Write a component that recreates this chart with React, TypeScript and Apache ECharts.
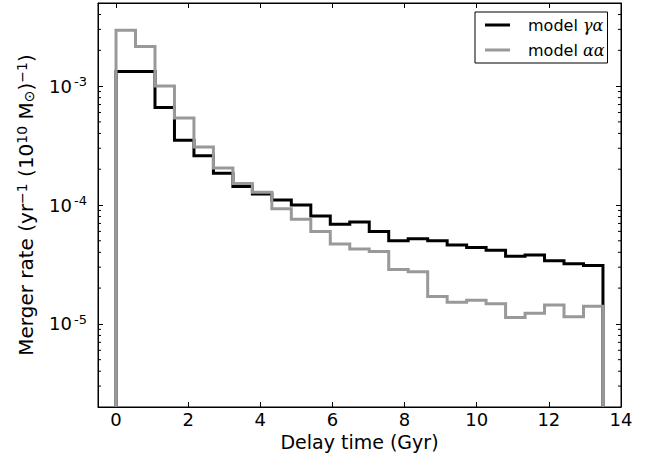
import React, { useEffect, useRef } from "react";
import * as echarts from "echarts";

// Histogram bin edges (Gyr)
const binEdges = [
  0, 0.54, 1.08, 1.62, 2.16, 2.7, 3.24, 3.78, 4.32, 4.86, 5.4, 5.94, 6.48,
  7.02, 7.56, 8.1, 8.64, 9.18, 9.72, 10.26, 10.8, 11.34, 11.88, 12.42, 12.96,
  13.5,
];

// Merger rate per bin, model γα (black)
const rateGammaAlpha = [
  1.33e-3, 1.33e-3, 6.6e-4, 3.5e-4, 2.6e-4, 1.85e-4, 1.43e-4, 1.24e-4, 1.1e-4,
  1.0e-4, 8.1e-5, 6.9e-5, 7.2e-5, 6.0e-5, 5.0e-5, 5.2e-5, 5.0e-5, 4.6e-5,
  4.4e-5, 4.17e-5, 3.7e-5, 3.8e-5, 3.4e-5, 3.2e-5, 3.1e-5,
];

// Merger rate per bin, model αα (gray)
const rateAlphaAlpha = [
  2.95e-3, 2.15e-3, 1.0e-3, 5.4e-4, 3.08e-4, 2.05e-4, 1.52e-4, 1.28e-4, 9.3e-5,
  7.6e-5, 6.0e-5, 4.7e-5, 4.27e-5, 4.06e-5, 2.87e-5, 2.74e-5, 1.7e-5, 1.52e-5,
  1.58e-5, 1.48e-5, 1.13e-5, 1.23e-5, 1.44e-5, 1.15e-5, 1.41e-5,
];

const seriesNames = ["model γα", "model αα"];
const seriesColors = ["#000000", "#999999"];

const xMin = -0.5;
const xMax = 14;
const yMin = 2e-6;
const yMax = 5e-3;

// Major log ticks (labelled 10^n)
const yMajorTicks = [1e-5, 1e-4, 1e-3];

// Minor log ticks (drawn inside on left and right)
const yMinorTicks = [
  3e-6, 4e-6, 5e-6, 6e-6, 7e-6, 8e-6, 9e-6,
  2e-5, 3e-5, 4e-5, 5e-5, 6e-5, 7e-5, 8e-5, 9e-5,
  2e-4, 3e-4, 4e-4, 5e-4, 6e-4, 7e-4, 8e-4, 9e-4,
  2e-3, 3e-3, 4e-3,
];

const FONT = "DejaVu Sans";

function stepData(vals: number[]): number[][] {
  const d: number[][] = [[binEdges[0], yMin]];
  vals.forEach((v, i) => d.push([binEdges[i], v]));
  d.push([binEdges[binEdges.length - 1], vals[vals.length - 1]]);
  d.push([binEdges[binEdges.length - 1], yMin]);
  return d;
}

function isPow10(v: number): boolean {
  const e = Math.round(Math.log10(v));
  return Math.abs(v - Math.pow(10, e)) / v < 1e-6;
}

export default function App() {
  const ref = useRef<HTMLDivElement>(null);
  useEffect(() => {
    if (!ref.current) return;
    const chart = echarts.init(ref.current, null, { renderer: "svg" });
    const tickStyle = { lineStyle: { color: "#000", width: 1 } };
    const axisLine = {
      show: true,
      onZero: false,
      lineStyle: { color: "#000", width: 1 },
    };
    const option: any = {
      animation: false,
      backgroundColor: "#ffffff",
      textStyle: { fontFamily: FONT },
      grid: {
        left: 98,
        right: 32,
        top: 3,
        bottom: 50,
        show: true,
        borderColor: "#000",
        borderWidth: 1,
        backgroundColor: "transparent",
      },
      legend: {
        data: seriesNames,
        orient: "vertical",
        left: 475,
        top: 12,
        borderColor: "#000",
        borderWidth: 1,
        borderRadius: 0,
        backgroundColor: "#fff",
        padding: [3, 3, 3, 10],
        itemGap: 5,
        itemWidth: 25,
        itemHeight: 3,
        icon: "rect",
        formatter: (name: string) => "model {g|" + name.slice(6) + "}",
        textStyle: {
          fontFamily: FONT,
          fontSize: 16,
          color: "#000",
          lineHeight: 20,
          padding: [0, 0, 0, 13],
          rich: {
            g: {
              fontFamily: "DejaVu Serif",
              fontStyle: "italic",
              fontSize: 16,
              color: "#000",
              lineHeight: 20,
            },
          },
        },
      },
      xAxis: [
        {
          type: "value",
          min: xMin,
          max: xMax,
          splitNumber: 7,
          minInterval: 2,
          maxInterval: 2,
          position: "bottom",
          name: "Delay time (Gyr)",
          nameLocation: "middle",
          nameGap: 22,
          nameTextStyle: {
            fontFamily: FONT,
            fontSize: 19,
            color: "#000",
            verticalAlign: "top",
          },
          axisLine,
          axisTick: { show: true, inside: true, length: 5, ...tickStyle },
          axisLabel: {
            show: true,
            fontFamily: FONT,
            fontSize: 18,
            color: "#000",
            margin: 3,
            formatter: (v: number) =>
              Math.abs(v - Math.round(v)) < 1e-9 ? String(Math.round(v)) : "",
          },
          splitLine: { show: false },
        },
        {
          type: "value",
          min: xMin,
          max: xMax,
          splitNumber: 7,
          minInterval: 2,
          maxInterval: 2,
          position: "top",
          axisLine,
          axisTick: { show: true, inside: true, length: 5, ...tickStyle },
          axisLabel: { show: false },
          splitLine: { show: false },
        },
      ],
      yAxis: [
        {
          type: "log",
          logBase: 10,
          min: yMin,
          max: yMax,
          position: "left",
          name:
            "{t|Merger rate (yr}{s|−1}{t| (10}{s|10}{t| M}{u|⊙}{t|)}{s|−1}{t|)}",
          nameLocation: "middle",
          nameRotate: 90,
          nameGap: 62,
          nameTextStyle: {
            color: "#000",
            fontFamily: FONT,
            fontSize: 20,
            rich: {
              t: {
                fontFamily: FONT,
                fontSize: 20,
                color: "#000",
                lineHeight: 21,
                padding: [6, 0, 0, 0],
                verticalAlign: "bottom",
              },
              s: {
                fontFamily: FONT,
                fontSize: 14,
                color: "#000",
                lineHeight: 15,
                verticalAlign: "top",
              },
              u: {
                fontFamily: FONT,
                fontSize: 14,
                color: "#000",
                lineHeight: 15,
                verticalAlign: "bottom",
              },
            },
          },
          axisLine,
          axisTick: { show: true, inside: true, length: 5, ...tickStyle },
          axisLabel: {
            show: true,
            margin: 26,
            fontFamily: FONT,
            fontSize: 18,
            color: "#000",
            padding: [4, 0, 0, 0],
            formatter: (v: number) => (isPow10(v) ? "10" : ""),
          },
          splitLine: { show: false },
        },
        {
          type: "log",
          logBase: 10,
          min: yMin,
          max: yMax,
          position: "right",
          axisLine,
          axisTick: { show: true, inside: true, length: 5, ...tickStyle },
          axisLabel: { show: false },
          splitLine: { show: false },
        },
      ],
      series: [
        {
          name: seriesNames[0],
          type: "line",
          step: "end",
          xAxisIndex: 0,
          yAxisIndex: 0,
          data: stepData(rateGammaAlpha),
          symbol: "none",
          color: seriesColors[0],
          lineStyle: { color: seriesColors[0], width: 3, join: "miter" },
          z: 3,
        },
        {
          name: seriesNames[1],
          type: "line",
          step: "end",
          xAxisIndex: 0,
          yAxisIndex: 0,
          data: stepData(rateAlphaAlpha),
          symbol: "none",
          color: seriesColors[1],
          lineStyle: { color: seriesColors[1], width: 3, join: "miter" },
          z: 4,
        },
        {
          name: "minorTicks",
          type: "custom",
          xAxisIndex: 0,
          yAxisIndex: 0,
          silent: true,
          clip: false,
          data: yMinorTicks.map((v) => [xMin, v]),
          renderItem: (params: any, api: any) => {
            const p = api.coord([xMin, api.value(1)]);
            const cs = params.coordSys;
            const st = { stroke: "#000", lineWidth: 1 };
            return {
              type: "group",
              children: [
                {
                  type: "line",
                  shape: { x1: cs.x, y1: p[1], x2: cs.x + 3, y2: p[1] },
                  style: st,
                },
                {
                  type: "line",
                  shape: {
                    x1: cs.x + cs.width,
                    y1: p[1],
                    x2: cs.x + cs.width - 3,
                    y2: p[1],
                  },
                  style: st,
                },
              ],
            };
          },
          z: 5,
        },
      ],
    };
    chart.setOption(option);
    // Superscript exponents of the y tick labels, placed at the axis scale positions
    const supTexts = yMajorTicks.map((v) => {
      const py = chart.convertToPixel({ yAxisIndex: 0 }, v) as number;
      return {
        type: "text",
        x: 87,
        y: py - 4.5,
        silent: true,
        style: {
          text: String(Math.round(Math.log10(v))),
          fontFamily: FONT,
          fontSize: 13,
          fill: "#000",
          align: "right",
          verticalAlign: "middle",
        },
      };
    });
    chart.setOption({ graphic: supTexts });
    return () => chart.dispose();
  }, []);
  return (
    <div
      ref={ref}
      style={{ position: "fixed", left: 0, top: 0, width: 653, height: 457 }}
    />
  );
}
